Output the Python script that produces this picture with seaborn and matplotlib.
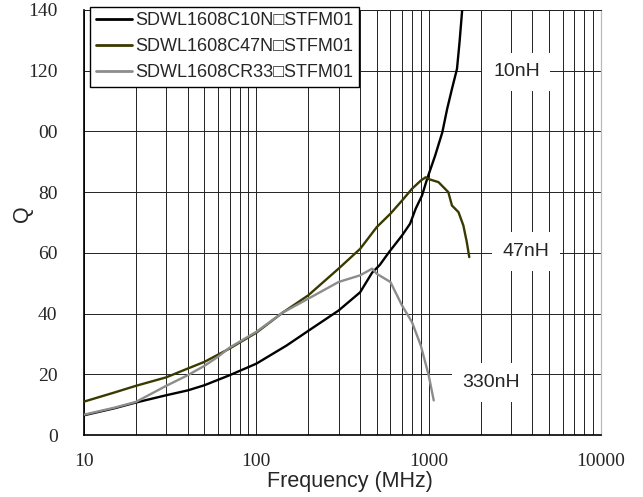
import matplotlib
matplotlib.use("Agg")
import matplotlib.pyplot as plt
import matplotlib.ticker as mticker
import seaborn as sns
import numpy as np
import pandas as pd

# Q vs frequency
freq_10n = [10, 15, 20, 30, 40, 50, 70, 100, 150, 200, 300, 400, 470, 520, 590,
            700, 780, 840, 915, 980, 1090, 1200, 1280, 1365, 1460, 1510, 1570]
q_10n = [6.5, 8.8, 10.7, 13.1, 14.7, 16.4, 19.7, 23.5, 29.5, 34.3, 41.0, 47.0, 53.5,
         56.0, 60.3, 65.7, 69.6, 74.5, 78.9, 84.4, 92.0, 99.7, 107.4, 114.0, 120.6,
         129.3, 141.0]

freq_47n = [10, 15, 20, 30, 40, 50, 70, 100, 142, 200, 300, 400, 500, 600, 700,
            800, 900, 960, 1000, 1140, 1300, 1365, 1490, 1590, 1665, 1720]
q_47n = [11.0, 14.0, 16.2, 19.0, 21.9, 24.1, 28.5, 33.7, 40.3, 46.0, 54.8, 61.3,
         68.5, 72.9, 77.2, 81.1, 83.8, 84.9, 84.3, 83.3, 80.0, 75.6, 73.4, 69.0,
         63.5, 58.6]

freq_330n = [10, 15, 20, 30, 40, 50, 60, 70, 100, 142, 200, 300, 400, 470, 500,
             600, 700, 800, 900, 1000, 1070]
q_330n = [6.7, 9.0, 10.9, 16.2, 19.7, 22.8, 25.8, 28.8, 34.0, 40.3, 44.9, 50.4,
          52.6, 54.8, 53.1, 50.4, 42.7, 37.2, 29.5, 19.7, 11.4]

series_names = ["SDWL1608C10N\u25a1STFM01", "SDWL1608C47N\u25a1STFM01",
                "SDWL1608CR33\u25a1STFM01"]
series_colors = ["#000000", "#3a3a00", "#8c8c8c"]
curve_tags = ["10nH", "47nH", "330nH"]

y_ticks = [0, 20, 40, 60, 80, 100, 120, 140]
y_tick_labels = ["0", "20", "40", "60", "80", "00", "120", "140"]
x_ticks = [10, 100, 1000, 10000]
x_tick_labels = ["10", "100", "1000", "10000"]

# long-form table for seaborn
frames = []
for name, f, q in zip(series_names, [freq_10n, freq_47n, freq_330n],
                      [q_10n, q_47n, q_330n]):
    frames.append(pd.DataFrame({"freq": f, "Q": q, "part": name}))
data = pd.concat(frames, ignore_index=True)

sns.set_style("white")
plt.rcParams['font.family'] = ['Liberation Sans', 'DejaVu Sans']

fig, ax = plt.subplots(figsize=(6.43, 4.97), dpi=100)
plt.subplots_adjust(left=0.1306, right=0.9347, bottom=0.1247, top=0.9799)

sns.lineplot(data=data, x="freq", y="Q", hue="part", hue_order=series_names,
             palette=series_colors, estimator=None, sort=False, linewidth=1.7,
             ax=ax, zorder=3)

ax.set_xscale("log")
ax.set_xlim(10, 10000)
ax.set_ylim(0, 140)

# grid: every decade subdivision on x, every 20 on y
ax.xaxis.set_minor_locator(mticker.LogLocator(base=10, subs=np.arange(2, 10)))
ax.xaxis.set_minor_formatter(mticker.NullFormatter())
ax.grid(which="both", axis="x", color="#222222", linewidth=0.7)
ax.grid(which="major", axis="y", color="#222222", linewidth=0.7)
ax.set_axisbelow(True)

serif = ['Liberation Serif', 'DejaVu Serif']
ax.set_xticks(x_ticks)
ax.set_xticklabels(x_tick_labels, family=serif, fontsize=14)
ax.set_yticks(y_ticks)
ax.set_yticklabels(y_tick_labels, family=serif, fontsize=14)
ax.tick_params(axis="x", which="both", length=0, pad=13)
ax.tick_params(axis="y", direction="in", length=4, width=1, pad=19, color="black")

ax.set_xlabel("Frequency (MHz)", fontsize=15.5, va="top")
ax.xaxis.set_label_coords(0.515, -0.085)
ax.set_ylabel("Q", fontsize=15.5, va="center")
ax.yaxis.set_label_coords(-0.118, 0.52)

for side in ["left", "bottom"]:
    ax.spines[side].set_color("black")
    ax.spines[side].set_linewidth(1.2)
ax.spines["top"].set_color("#222222")
ax.spines["top"].set_linewidth(0.7)
ax.spines["right"].set_color("#bbbbbb")
ax.spines["right"].set_linewidth(0.9)

# curve tags with white boxes that hide the grid
tag_pos = [(3230, 119.6), (3680, 60.5), (2310, 17.3)]
for tag, (tx, ty) in zip(curve_tags, tag_pos):
    ax.text(tx, ty, tag, fontsize=14, ha="center", va="center", zorder=4,
            bbox=dict(boxstyle="square,pad=0.55", fc="white", ec="none"))

handles, labels = ax.get_legend_handles_labels()
leg = ax.legend(handles, labels, loc="upper left", bbox_to_anchor=(0.012, 1.007),
                borderaxespad=0, fontsize=13, frameon=True, fancybox=False,
                framealpha=1, edgecolor="black", handlelength=2.0,
                handletextpad=0.2, labelspacing=0.5, borderpad=0.3)
leg.get_frame().set_linewidth(1.0)
for line in leg.get_lines():
    line.set_linewidth(2.0)

fig.savefig("out.png", dpi=100)
